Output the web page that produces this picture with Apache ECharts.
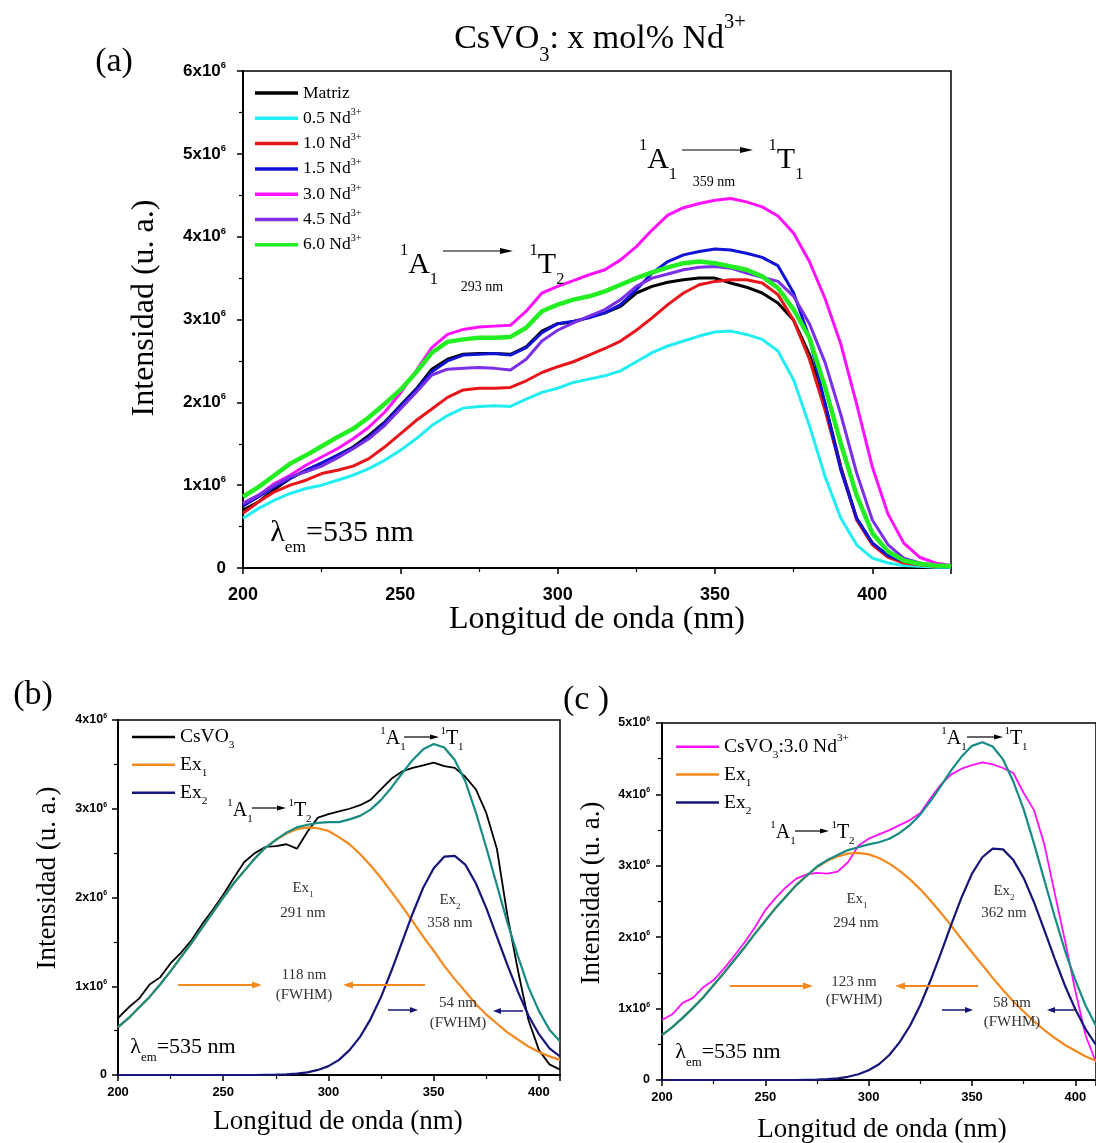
<!DOCTYPE html>
<html><head><meta charset="utf-8">
<script src="https://cdn.jsdelivr.net/npm/echarts@6/dist/echarts.min.js"></script>
<style>html,body{margin:0;padding:0;background:#fff}#c{width:1096px;height:1143px}</style>
</head><body><div id="c"></div>
<script>
// ---------------- DATA (intensity in units of 1e6) ----------------
const wlA = [200,205,210,215,220,225,230,235,240,245,250,255,260,265,270,275,280,285,290,295,300,305,310,315,320,325,330,335,340,345,350,355,360,365,370,375,380,385,390,395,400,405,410,415,420,425];
const matriz = [0.70,0.80,0.95,1.08,1.18,1.26,1.36,1.46,1.60,1.76, 1.96,2.16,2.40,2.52,2.58,2.59,2.59,2.58,2.67,2.86, 2.95,2.97,3.03,3.08,3.16,3.32,3.40,3.45,3.48,3.50, 3.50,3.44,3.39,3.32,3.20,2.99,2.58,1.98,1.22,0.60, 0.30,0.15,0.07,0.04,0.03,0.02];
const nd05 = [0.60,0.72,0.82,0.90,0.96,1.00,1.06,1.12,1.20,1.30, 1.42,1.56,1.72,1.84,1.93,1.95,1.96,1.95,2.04,2.12, 2.17,2.24,2.28,2.32,2.38,2.49,2.60,2.68,2.74,2.80, 2.85,2.86,2.82,2.76,2.62,2.27,1.72,1.10,0.60,0.28, 0.12,0.06,0.03,0.02,0.01,0.01];
const nd10 = [0.66,0.80,0.92,1.00,1.06,1.14,1.18,1.23,1.32,1.46, 1.62,1.78,1.92,2.06,2.15,2.17,2.17,2.18,2.26,2.36, 2.43,2.49,2.57,2.65,2.74,2.87,3.02,3.18,3.32,3.42, 3.46,3.48,3.48,3.44,3.30,2.99,2.52,1.90,1.20,0.58, 0.28,0.13,0.06,0.04,0.02,0.02];
const nd15 = [0.75,0.86,0.98,1.08,1.18,1.27,1.36,1.45,1.58,1.75, 1.95,2.15,2.37,2.50,2.57,2.58,2.59,2.57,2.66,2.84, 2.95,2.98,3.02,3.08,3.18,3.36,3.56,3.70,3.78,3.82, 3.85,3.84,3.80,3.75,3.65,3.32,2.78,1.98,1.18,0.60, 0.30,0.15,0.08,0.05,0.03,0.02];
const nd30 = [0.78,0.88,1.02,1.12,1.24,1.34,1.44,1.56,1.70,1.88, 2.11,2.38,2.66,2.82,2.88,2.91,2.92,2.93,3.10,3.32, 3.40,3.47,3.54,3.60,3.72,3.88,4.08,4.26,4.35,4.40, 4.44,4.46,4.42,4.36,4.25,4.04,3.70,3.25,2.70,1.98, 1.22,0.65,0.30,0.13,0.06,0.03];
const nd45 = [0.78,0.88,1.00,1.10,1.16,1.23,1.33,1.44,1.56,1.72, 1.92,2.12,2.33,2.40,2.41,2.42,2.41,2.39,2.52,2.74, 2.87,2.96,3.04,3.12,3.24,3.40,3.50,3.55,3.60,3.63, 3.64,3.62,3.56,3.51,3.46,3.28,2.95,2.48,1.85,1.15, 0.58,0.28,0.12,0.06,0.03,0.02];
const nd60 = [0.86,0.98,1.12,1.26,1.36,1.47,1.58,1.68,1.82,1.98, 2.15,2.36,2.60,2.73,2.76,2.78,2.78,2.79,2.90,3.10, 3.18,3.24,3.28,3.34,3.42,3.50,3.57,3.63,3.68,3.70, 3.68,3.64,3.60,3.52,3.38,3.12,2.78,2.18,1.50,0.88, 0.42,0.20,0.09,0.05,0.03,0.02];

const wlBC = [200,205,210,215,220,225,230,235,240,245,250,255,260,265,270,275,280,285,290,295,300,305,310,315,320,325,330,335,340,345,350,355,360,365,370,375,380,385,390,395,400,405,410];
const csvo3B = [0.64,0.76,0.86,1.02,1.10,1.26,1.38,1.52,1.70,1.86, 2.03,2.22,2.40,2.50,2.57,2.58,2.60,2.55,2.74,2.90, 2.94,2.97,3.00,3.04,3.10,3.22,3.34,3.42,3.46,3.49, 3.52,3.48,3.46,3.36,3.22,2.95,2.55,1.80,1.18,0.62, 0.28,0.12,0.06];
const ex1B = [0.54,0.64,0.76,0.88,1.02,1.17,1.33,1.49,1.66,1.83, 2.00,2.16,2.30,2.44,2.56,2.65,2.72,2.77,2.79,2.78, 2.75,2.68,2.60,2.49,2.36,2.22,2.06,1.90,1.73,1.56, 1.40,1.23,1.08,0.94,0.80,0.68,0.58,0.48,0.40,0.32, 0.26,0.21,0.17];
const ex2B = [0,0,0,0,0,0,0,0,0,0, 0,0,0,0,0.002,0.004,0.008,0.016,0.03,0.057, 0.10,0.17,0.28,0.43,0.63,0.88,1.18,1.50,1.82,2.11, 2.33,2.46,2.47,2.37,2.16,1.88,1.56,1.24,0.94,0.67, 0.46,0.30,0.21];
const fitB = [0.54,0.64,0.76,0.88,1.02,1.17,1.33,1.49,1.66,1.83, 2.00,2.16,2.30,2.44,2.56,2.65,2.73,2.79,2.82,2.84, 2.85,2.85,2.88,2.92,2.99,3.10,3.24,3.40,3.55,3.67, 3.73,3.69,3.55,3.31,2.96,2.56,2.14,1.72,1.34,0.99, 0.72,0.51,0.38];

const nd30C = [0.84,0.92,1.08,1.15,1.30,1.40,1.56,1.74,1.93,2.14, 2.38,2.55,2.70,2.82,2.88,2.90,2.89,2.92,3.05,3.28, 3.38,3.44,3.50,3.57,3.64,3.74,3.95,4.14,4.28,4.36, 4.41,4.45,4.42,4.37,4.30,4.02,3.78,3.30,2.62,1.95, 1.25,0.62,0.25];
const ex1C = [0.63,0.74,0.87,1.01,1.16,1.33,1.50,1.68,1.86,2.05, 2.23,2.41,2.57,2.73,2.86,2.98,3.07,3.13,3.17,3.18, 3.16,3.11,3.03,2.93,2.81,2.67,2.51,2.34,2.16,1.97, 1.79,1.61,1.43,1.26,1.10,0.96,0.82,0.70,0.59,0.49, 0.41,0.33,0.27];
const ex2C = [0,0,0,0,0,0,0,0,0,0, 0,0,0,0,0.003,0.006,0.013,0.024,0.045,0.08, 0.136,0.22,0.35,0.53,0.76,1.05,1.40,1.78,2.18,2.56, 2.89,3.12,3.24,3.23,3.08,2.83,2.49,2.10,1.70,1.32, 0.99,0.71,0.49];
const fitC = [0.63,0.74,0.87,1.01,1.16,1.33,1.50,1.68,1.86,2.05, 2.23,2.41,2.57,2.73,2.86,2.99,3.08,3.15,3.22,3.26, 3.30,3.33,3.38,3.46,3.57,3.72,3.91,4.12,4.34,4.53, 4.68,4.73,4.67,4.49,4.18,3.79,3.31,2.80,2.29,1.81, 1.40,1.04,0.76];

const seriesNamesA = ['Matriz','0.5','1.0','1.5','3.0','4.5','6.0'];
const seriesDataA = [matriz, nd05, nd10, nd15, nd30, nd45, nd60];
const colorsA = ['#000000','#22EEF2','#E8141A','#1212D6','#FF10FF','#7B2FE6','#22EE22'];
const widthsA = [3,3,3,3,3,3,4.5];

// ---------------- STYLE HELPERS ----------------
const SERIF = '"Liberation Serif","Times New Roman",serif';
const SANS = '"Liberation Sans",Arial,sans-serif';
function RS(fs, sup, sub, ratio, color, weight, family){
  ratio = ratio||0.58; color = color||'#000'; weight = weight||'normal'; family = family||SERIF;
  const s = Math.round(fs*ratio*10)/10;
  const L = Math.max(1.2*fs, s + 2*Math.max(sup,sub)*fs + 2);
  const base = {fontFamily:family, fontWeight:weight, color:color, fill:color};
  return {
    m: Object.assign({fontSize:fs, lineHeight:L}, base),
    sp: Object.assign({fontSize:s, lineHeight:L-2*sup*fs, verticalAlign:'top'}, base),
    sb: Object.assign({fontSize:s, lineHeight:L-2*sub*fs, verticalAlign:'bottom'}, base)
  };
}
function T(x, y, text, rich, opt){
  opt = opt||{};
  return {type:'text', x:x, y:y, rotation:opt.rot||0, z:100,
    style:{text:text, rich:rich, align:opt.align||'center', verticalAlign:'middle'}};
}
function arrow(x1,y1,x2,y2,color,lw,hl,hw){
  const dx=x2-x1, dy=y2-y1, len=Math.hypot(dx,dy), ux=dx/len, uy=dy/len;
  const bx=x2-ux*hl, by=y2-uy*hl;
  return [
    {type:'line', z:100, shape:{x1:x1,y1:y1,x2:bx+ux*1,y2:by+uy*1}, style:{stroke:color, lineWidth:lw}},
    {type:'polygon', z:100, shape:{points:[[x2,y2],[bx-uy*hw/2,by+ux*hw/2],[bx+uy*hw/2,by-ux*hw/2]]}, style:{fill:color}}
  ];
}
function xAx(g, max, fs, margin){
  return {type:'value', gridIndex:g, min:200, max:max, interval:50,
    axisLine:{onZero:false, lineStyle:{color:'#000', width:2}},
    axisTick:{length:6, lineStyle:{color:'#000', width:1.5}},
    minorTick:{show:true, splitNumber:2, length:4, lineStyle:{color:'#000', width:1.2}},
    splitLine:{show:false}, minorSplitLine:{show:false},
    axisLabel:{showMaxLabel:false, color:'#000', fontFamily:SANS, fontWeight:'bold', fontSize:fs, margin:margin}};
}
function yAx(g, max, fs, margin){
  return {type:'value', gridIndex:g, min:0, max:max, interval:1,
    axisLine:{show:true, onZero:false, lineStyle:{color:'#000', width:2}},
    axisTick:{show:true, length:6, lineStyle:{color:'#000', width:1.5}},
    minorTick:{show:true, splitNumber:2, length:4, lineStyle:{color:'#000', width:1.2}},
    splitLine:{show:false}, minorSplitLine:{show:false},
    axisLabel:{margin:margin, formatter:function(v){return v===0?'{m|0}':'{m|'+v+'x10}{sp|6}';},
      rich:RS(fs, 0.18, 0, 0.55, '#000', 'bold', SANS)}};
}
function ser(name, x, y, wl, vals, color, width, z){
  return {name:name, type:'line', xAxisIndex:x, yAxisIndex:y, symbol:'none', z:z||2,
    data: wl.map(function(w,i){return [w, vals[i]];}),
    lineStyle:{color:color, width:width}, itemStyle:{color:color}, emphasis:{disabled:true}};
}

// ---------------- SERIES ----------------
const series = [];
seriesNamesA.forEach(function(n,i){ series.push(ser(n,0,0,wlA,seriesDataA[i],colorsA[i],widthsA[i],2+i)); });
series.push(ser('b:CsVO3',1,1,wlBC,csvo3B,'#000000',1.8,2));
series.push(ser('b:Ex1',1,1,wlBC,ex1B,'#F5891E',2.2,3));
series.push(ser('b:Ex2',1,1,wlBC,ex2B,'#16167A',2.2,4));
series.push(ser('b:fit',1,1,wlBC,fitB,'#178C84',2.2,5));
series.push(ser('c:CsVO3',2,2,wlBC,nd30C,'#FF10FF',1.8,2));
series.push(ser('c:Ex1',2,2,wlBC,ex1C,'#F5891E',2.2,3));
series.push(ser('c:Ex2',2,2,wlBC,ex2C,'#16167A',2.2,4));
series.push(ser('c:fit',2,2,wlBC,fitC,'#178C84',2.2,5));

// ---------------- LEGENDS ----------------
const richLegA = RS(17.5, 0.3, 0, 0.58);
const richLegB = RS(19.5, 0.3, 0.36, 0.58);
const legendLabel = {
  'b:CsVO3':'{m|CsVO}{sb|3}', 'b:Ex1':'{m|Ex}{sb|1}', 'b:Ex2':'{m|Ex}{sb|2}',
  'c:CsVO3':'{m|CsVO}{sb|3}{m|:3.0 Nd}{sp|3+}', 'c:Ex1':'{m|Ex}{sb|1}', 'c:Ex2':'{m|Ex}{sb|2}'
};
const legends = [
  {data:seriesNamesA.map(function(n){return {name:n, icon:'rect'};}), orient:'vertical', left:250, top:79,
   itemWidth:43, itemHeight:3.5, itemGap:5.0, selectedMode:false,
   formatter:function(n){return n==='Matriz'?'{m|Matriz}':'{m|'+n+' Nd}{sp|3+}';},
   textStyle:{rich:richLegA}},
  {data:['b:CsVO3','b:Ex1','b:Ex2'].map(function(n){return {name:n, icon:'rect'};}), orient:'vertical', left:127, top:722,
   itemWidth:43, itemHeight:2.5, itemGap:4.2,
   selectedMode:false, formatter:function(n){return legendLabel[n];}, textStyle:{rich:richLegB}},
  {data:['c:CsVO3','c:Ex1','c:Ex2'].map(function(n){return {name:n, icon:'rect'};}), orient:'vertical', left:671, top:728,
   itemWidth:43, itemHeight:2.5, itemGap:4.2,
   selectedMode:false, formatter:function(n){return legendLabel[n];}, textStyle:{rich:richLegB}}
];

// ---------------- ANNOTATIONS ----------------
const G = [];
const rTitle = RS(34, 0.22, 0.45, 0.6);
const rBig = RS(30, 0.45, 0.35, 0.55);
const rLamA = RS(30, 0, 0.45, 0.58);
const rName32 = RS(32, 0, 0);
const rName27 = RS(27, 0, 0);
const rLab = RS(34, 0, 0);
const rSmallA = RS(14, 0, 0);
const rMid = RS(20, 0.2, 0.35, 0.55);
const rTxt = RS(15, 0, 0.4, 0.6, '#333');
const rLamB = RS(22, 0, 0.45, 0.58);

G.push(T(600, 39, '{m|CsVO}{sb|3}{m|: x mol% Nd}{sp|3+}', rTitle));
G.push(T(114, 62, '{m|(a)}', rLab));
G.push(T(33, 695, '{m|(b)}', rLab));
G.push(T(586, 700, '{m|(c )}', rLab));
// axis names
G.push(T(145, 308, '{m|Intensidad (u. a.)}', rName32, {rot:Math.PI/2}));
G.push(T(597, 620, '{m|Longitud de onda (nm)}', rName32));
G.push(T(48, 878, '{m|Intensidad (u. a.)}', rName27, {rot:Math.PI/2}));
G.push(T(338, 1122, '{m|Longitud de onda (nm)}', rName27));
G.push(T(592, 893, '{m|Intensidad (u. a.)}', rName27, {rot:Math.PI/2}));
G.push(T(882, 1130, '{m|Longitud de onda (nm)}', rName27));
// panel a annotations
G.push(T(419, 265, '{sp|1}{m|A}{sb|1}', rBig));
Array.prototype.push.apply(G, arrow(443,251,513,251,'#000',1.2,13,6));
G.push(T(547, 265, '{sp|1}{m|T}{sb|2}', rBig));
G.push(T(482, 287, '{m|293 nm}', rSmallA));
G.push(T(658, 160, '{sp|1}{m|A}{sb|1}', rBig));
Array.prototype.push.apply(G, arrow(682,150,753,150,'#000',1.2,13,6));
G.push(T(786, 160, '{sp|1}{m|T}{sb|1}', rBig));
G.push(T(714, 182, '{m|359 nm}', rSmallA));
G.push(T(342, 533, '{m|λ}{sb|em}{m|=535 nm}', rLamA));
// panel b annotations
G.push(T(240, 811, '{sp|1}{m|A}{sb|1}', rMid));
Array.prototype.push.apply(G, arrow(252,808,286,808,'#000',1.2,9,5));
G.push(T(300, 811, '{sp|1}{m|T}{sb|2}', rMid));
G.push(T(393, 739, '{sp|1}{m|A}{sb|1}', rMid));
Array.prototype.push.apply(G, arrow(404,737,439,737,'#000',1.2,9,5));
G.push(T(452, 739, '{sp|1}{m|T}{sb|1}', rMid));
G.push(T(303, 888, '{m|Ex}{sb|1}', rTxt));
G.push(T(303, 913, '{m|291 nm}', rTxt));
G.push(T(450, 900, '{m|Ex}{sb|2}', rTxt));
G.push(T(450, 923, '{m|358 nm}', rTxt));
G.push(T(304, 975, '{m|118 nm}', rTxt));
G.push(T(304, 995, '{m|(FWHM)}', rTxt));
Array.prototype.push.apply(G, arrow(178,985,262,985,'#F5891E',2,10,7));
Array.prototype.push.apply(G, arrow(425,985,343,985,'#F5891E',2,10,7));
G.push(T(458, 1003, '{m|54 nm}', rTxt));
G.push(T(458, 1023, '{m|(FWHM)}', rTxt));
Array.prototype.push.apply(G, arrow(388,1010,418,1010,'#16167A',1.5,8,6));
Array.prototype.push.apply(G, arrow(523,1011,493,1011,'#16167A',1.5,8,6));
G.push(T(183, 1047, '{m|λ}{sb|em}{m|=535 nm}', rLamB));
// panel c annotations
G.push(T(783, 833, '{sp|1}{m|A}{sb|1}', rMid));
Array.prototype.push.apply(G, arrow(795,831,829,831,'#000',1.2,9,5));
G.push(T(843, 833, '{sp|1}{m|T}{sb|2}', rMid));
G.push(T(954, 739, '{sp|1}{m|A}{sb|1}', rMid));
Array.prototype.push.apply(G, arrow(967,737,1003,737,'#000',1.2,9,5));
G.push(T(1016, 739, '{sp|1}{m|T}{sb|1}', rMid));
G.push(T(857, 899, '{m|Ex}{sb|1}', rTxt));
G.push(T(856, 923, '{m|294 nm}', rTxt));
G.push(T(1004, 891, '{m|Ex}{sb|2}', rTxt));
G.push(T(1004, 913, '{m|362 nm}', rTxt));
G.push(T(854, 982, '{m|123 nm}', rTxt));
G.push(T(854, 1000, '{m|(FWHM)}', rTxt));
Array.prototype.push.apply(G, arrow(730,986,813,986,'#F5891E',2,10,7));
Array.prototype.push.apply(G, arrow(978,986,895,986,'#F5891E',2,10,7));
G.push(T(1012, 1003, '{m|58 nm}', rTxt));
G.push(T(1012, 1022, '{m|(FWHM)}', rTxt));
Array.prototype.push.apply(G, arrow(942,1010,973,1010,'#16167A',1.5,8,6));
Array.prototype.push.apply(G, arrow(1077,1010,1047,1010,'#16167A',1.5,8,6));
G.push(T(728, 1052, '{m|λ}{sb|em}{m|=535 nm}', rLamB));

// ---------------- OPTION ----------------
const chart = echarts.init(document.getElementById('c'), null, {renderer:'canvas'});
chart.setOption({
  animation:false,
  backgroundColor:'#ffffff',
  grid:[
    {left:243, top:71, width:708, height:497, show:true, borderColor:'#000', borderWidth:1.5, containLabel:false},
    {left:118, top:720, width:442, height:355, show:true, borderColor:'#000', borderWidth:1.5, containLabel:false},
    {left:662, top:723, width:443, height:357, show:true, borderColor:'#000', borderWidth:1.5, containLabel:false}
  ],
  xAxis:[xAx(0,425,18,18), xAx(1,410,13,11), xAx(2,410,13,11)],
  yAxis:[yAx(0,6,17,17), yAx(1,4,12.5,11), yAx(2,5,12.5,12)],
  legend:legends,
  series:series,
  graphic:G
});
</script>
</body></html>
